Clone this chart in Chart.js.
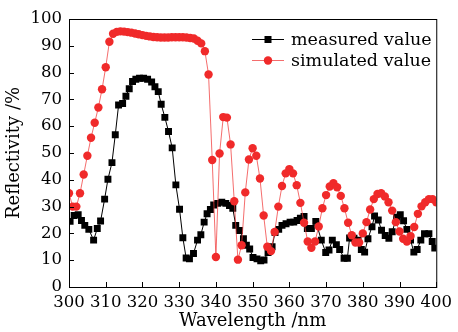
<!DOCTYPE html>
<html>
<head>
<meta charset="utf-8">
<script src="https://cdn.jsdelivr.net/npm/chart.js@4.4.1/dist/chart.umd.min.js"></script>
<style>
  html, body { margin: 0; padding: 0; background: #fff; }
  #wrap { width: 458px; height: 332px; }
</style>
</head>
<body>
<div id="wrap"><canvas id="myChart" width="458" height="332"></canvas></div>
<script>
// datos
const measuredNm = [300.3, 301.4, 302.5, 303.4, 304.3, 305.4, 306.7, 307.7, 308.6, 309.7, 310.6, 311.7, 312.6, 313.5, 314.6, 315.5, 316.4, 317.3, 318.2, 319.2, 320.3, 321.4, 322.5, 323.4, 324.3, 325.1, 326.1, 327.1, 328.1, 329.1, 330.1, 331.0, 331.9, 332.8, 333.9, 335.0, 335.9, 336.8, 337.6, 338.5, 339.4, 340.5, 341.6, 342.7, 343.7, 344.6, 345.4, 346.4, 347.5, 348.3, 349.2, 350.1, 351.2, 352.2, 353.1, 354.2, 355.3, 356.1, 357.1, 358.0, 359.1, 360.2, 361.2, 362.1, 363.0, 364.0, 364.9, 366.0, 367.2, 368.7, 369.9, 370.8, 371.7, 372.8, 373.7, 374.9, 375.8, 376.4, 377.6, 378.7, 379.6, 380.5, 381.4, 382.5, 383.2, 384.2, 385.1, 386.1, 387.1, 388.0, 389.2, 390.2, 391.1, 392.0, 393.0, 393.9, 394.8, 395.8, 396.8, 398.0, 398.9, 399.6];
const measuredR = [24.5, 26.7, 27, 24.8, 23, 21.5, 17.5, 21.8, 24.6, 32.8, 40.2, 46.4, 56.8, 67.9, 68.5, 71.2, 74, 76.7, 77.5, 77.9, 77.9, 77.5, 76.5, 74.7, 72.9, 68.2, 63.3, 58, 51.9, 38.1, 29, 18.4, 10.8, 10.5, 12.5, 17.5, 19.5, 24.2, 27.3, 28.9, 30.6, 31.2, 31.6, 31.2, 30.4, 29.4, 23, 21.1, 18, 15.6, 14.2, 11, 10.5, 9.8, 10.1, 12.9, 15, 20.3, 21.5, 23, 23.6, 24.2, 24.2, 24.8, 25.7, 26.3, 21.8, 21.8, 24.5, 17.5, 12.9, 13.8, 17.5, 15.8, 14, 10.7, 10.7, 18.3, 18.2, 17.5, 14, 13, 18, 22.5, 26.5, 25, 21.2, 19.2, 18.2, 20.6, 26, 27, 24.7, 21.5, 17.5, 13, 14, 17.5, 19.9, 19.9, 17, 14.5];

const simulatedNm = [300, 301, 302, 303, 304, 305, 306, 307, 308, 309, 310, 311, 312, 313, 314, 315, 316, 317, 318, 319, 320, 321, 322, 323, 324, 325, 326, 327, 328, 329, 330, 331, 332, 333, 334, 335, 336, 337, 338, 339, 340, 341, 342, 343, 344, 345, 346, 347, 348, 349, 350, 351, 352, 353, 354, 355, 356, 357, 358, 359, 360, 361, 362, 363, 364, 365, 366, 367, 368, 369, 370, 371, 372, 373, 374, 375, 376, 377, 378, 379, 380, 381, 382, 383, 384, 385, 386, 387, 388, 389, 390, 391, 392, 393, 394, 395, 396, 397, 398, 399, 400];
const simulatedR = [35, 30, 30, 35, 42, 49, 55.7, 61.3, 67, 73.8, 82, 91.5, 94.5, 95.2, 95.4, 95.3, 95.1, 94.9, 94.6, 94.3, 94, 93.7, 93.5, 93.3, 93.2, 93.1, 93.1, 93.1, 93.2, 93.2, 93.2, 93.2, 93.1, 92.9, 92.7, 91.9, 90.9, 88, 79.3, 47.4, 11.2, 49.8, 63.4, 63.2, 53.2, 32, 10.2, 15.6, 35.3, 47.6, 51.8, 49, 40.5, 26.7, 15, 13.4, 20.5, 30, 37.7, 42.4, 44, 42.4, 38, 31.4, 24, 17, 14.6, 17, 22.6, 29.4, 34.3, 37.5, 38.7, 37.2, 34, 29.4, 24, 19.3, 16.6, 16.6, 20, 24.2, 28.9, 32.8, 34.7, 35, 33.8, 31.6, 28.5, 24.2, 20.7, 18, 17, 19, 22.4, 27.3, 30.1, 31.6, 32.8, 32.8, 31.6];

const xTickLabels = [300, 310, 320, 330, 340, 350, 360, 370, 380, 390, 400];
const yTickLabels = [0, 10, 20, 30, 40, 50, 60, 70, 80, 90, 100];
const seriesNames = ['measured value', 'simulated value'];

const FONT = "'DejaVu Serif', serif";
const RED = '#f02a2a';

// marco, ticks hacia dentro y leyenda
const framePlugin = {
  id: 'frame',
  afterDraw(chart) {
    const c = chart.ctx;
    const a = chart.chartArea;
    const xs = chart.scales.x, ys = chart.scales.y;
    c.save();
    c.strokeStyle = '#000';
    c.lineWidth = 1;
    c.strokeRect(a.left + 0.5, a.top + 0.5, a.right - a.left, a.bottom - a.top);
    c.beginPath();
    xTickLabels.forEach(v => {
      const px = Math.round(xs.getPixelForValue(v)) + 0.5;
      c.moveTo(px, a.bottom); c.lineTo(px, a.bottom - 5);
    });
    yTickLabels.forEach(v => {
      const py = Math.round(ys.getPixelForValue(v)) + 0.5;
      c.moveTo(a.left, py); c.lineTo(a.left + 5, py);
    });
    c.stroke();

    // leyenda
    const items = [
      { color: '#000', line: '#000', style: 'rect', y: 39 },
      { color: RED, line: 'rgba(240,60,60,0.75)', style: 'circle', y: 60 }
    ];
    c.font = '17.5px ' + FONT;
    c.textBaseline = 'middle';
    c.textAlign = 'left';
    items.forEach((it, i) => {
      c.strokeStyle = it.line;
      c.beginPath();
      c.moveTo(252, it.y + 0.5); c.lineTo(284, it.y + 0.5);
      c.stroke();
      c.fillStyle = it.color;
      if (it.style === 'rect') c.fillRect(264.5, it.y - 3, 7, 7);
      else { c.beginPath(); c.arc(268, it.y + 0.5, 4.2, 0, Math.PI * 2); c.fill(); }
      c.fillStyle = '#000';
      c.fillText(seriesNames[i], 291, it.y + 1);
    });
    c.restore();
  }
};

const ctx = document.getElementById('myChart').getContext('2d');
const myChart = new Chart(ctx, {
  type: 'scatter',
  data: {
    datasets: [{
      label: seriesNames[0],
      data: measuredNm.map((x, i) => ({ x: x, y: measuredR[i] })),
      showLine: true,
      borderColor: '#000',
      borderWidth: 1,
      backgroundColor: '#000',
      pointStyle: 'rect',
      pointRadius: 4.9,
      pointBorderWidth: 0,
      order: 1
    }, {
      label: seriesNames[1],
      data: simulatedNm.map((x, i) => ({ x: x, y: simulatedR[i] })),
      showLine: true,
      borderColor: 'rgba(240,60,60,0.75)',
      borderWidth: 1,
      backgroundColor: RED,
      pointStyle: 'circle',
      pointRadius: 4.2,
      pointBorderWidth: 0,
      order: 0
    }]
  },
  options: {
    responsive: false,
    animation: false,
    layout: { padding: { left: 0, right: 17, top: 19, bottom: 0 } },
    plugins: { legend: { display: false }, tooltip: { enabled: false } },
    scales: {
      x: {
        type: 'linear',
        min: 300, max: 400,
        afterFit(scale) { scale.height = 45; },
        afterBuildTicks(scale) { scale.ticks = xTickLabels.map(v => ({ value: v })); },
        grid: { display: false, drawTicks: false },
        border: { display: true, color: '#000', width: 1 },
        ticks: { color: '#000', padding: 6, maxRotation: 0, autoSkip: false, font: { family: FONT, size: 16.5 } },
        title: { display: true, text: 'Wavelength /nm', color: '#000', padding: 0, font: { family: FONT, size: 18 } }
      },
      y: {
        min: 0, max: 100,
        afterFit(scale) { scale.width = 69; },
        afterBuildTicks(scale) { scale.ticks = yTickLabels.map(v => ({ value: v })); },
        grid: { display: false, drawTicks: false },
        border: { display: true, color: '#000', width: 1 },
        ticks: { color: '#000', padding: 7, autoSkip: false, font: { family: FONT, size: 16.5 } },
        title: { display: true, text: 'Reflectivity /%', color: '#000', padding: { top: 4, bottom: 0 }, font: { family: FONT, size: 18 } }
      }
    }
  },
  plugins: [framePlugin]
});
</script>
</body>
</html>
